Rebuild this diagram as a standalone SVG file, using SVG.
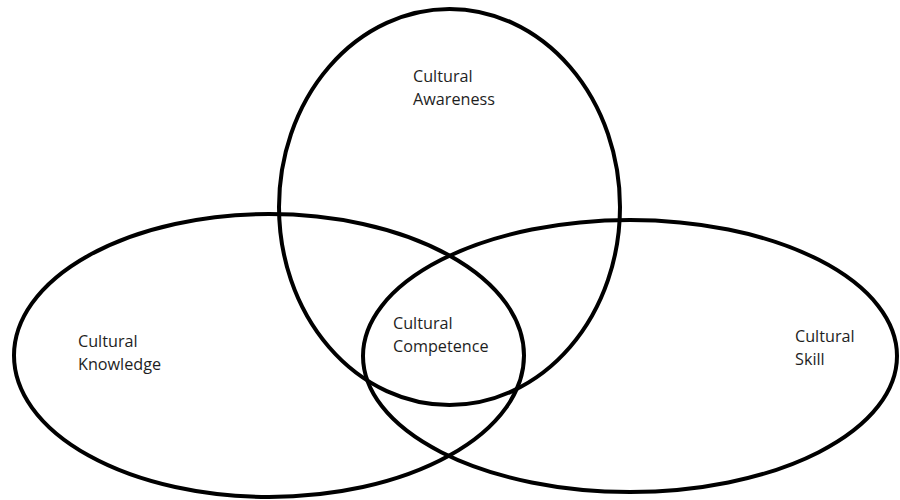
<svg xmlns="http://www.w3.org/2000/svg" width="900" height="500" viewBox="0 0 900 500">
<style>
.c{fill:none;stroke:#000;stroke-width:4}
.t{font-family:"Open Sans","Liberation Sans",sans-serif;font-size:16.2px;fill:#1e1e1e}
</style>
<rect width="900" height="500" fill="#fff"/>
<g id="awareness">
<ellipse class="c" cx="449.5" cy="207" rx="170.5" ry="198"/>
<text class="t" x="413" y="82">Cultural</text>
<text class="t" x="413" y="105">Awareness</text>
</g>
<g id="knowledge">
<ellipse class="c" cx="269" cy="355.5" rx="255" ry="141.5"/>
<text class="t" x="78" y="347">Cultural</text>
<text class="t" x="78" y="370">Knowledge</text>
</g>
<g id="skill">
<ellipse class="c" cx="630" cy="356" rx="267" ry="136"/>
<text class="t" x="795" y="342">Cultural</text>
<text class="t" x="795" y="365">Skill</text>
</g>
<g id="competence">
<text class="t" x="393" y="329">Cultural</text>
<text class="t" x="393" y="352">Competence</text>
</g>
<g id="connectors"></g>
</svg>
